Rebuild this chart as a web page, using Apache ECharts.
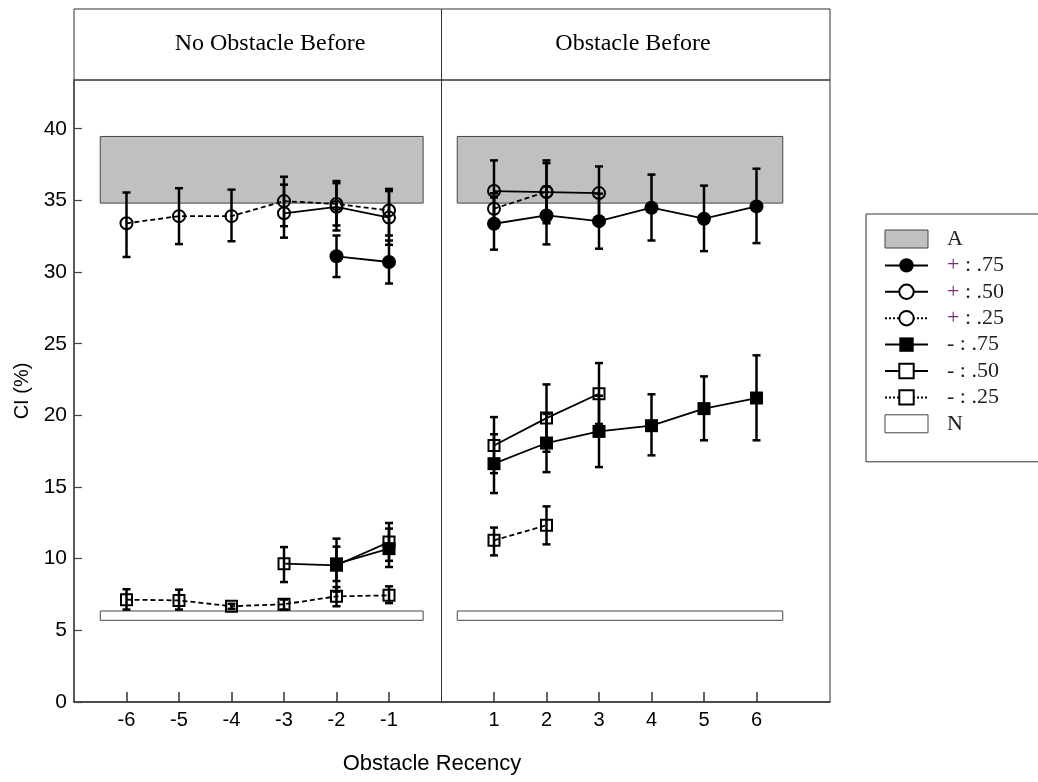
<!DOCTYPE html>
<html><head><meta charset="utf-8">
<script src="https://cdn.jsdelivr.net/npm/echarts@6/dist/echarts.min.js"></script>
<style>html,body{margin:0;padding:0;background:#fff}#c{width:1038px;height:782px}</style>
</head><body><div id="c"></div><script>
// ---- tick labels ----
const xTicks = [-6,-5,-4,-3,-2,-1,1,2,3,4,5,6];
const yTicks = [0,5,10,15,20,25,30,35,40];
const panelTitles = ['No Obstacle Before','Obstacle Before'];
const divider = [[0,0],[0,1]];

// ---- bands (A = gray, N = white) ----
const bandX1 = [-6.5, 0.3];
const bandX2 = [-0.35, 6.5];
const bandA_lo = [34.81, 34.81], bandA_hi = [39.46, 39.46];
const bandN_lo = [5.70, 5.70],   bandN_hi = [6.35, 6.35];

// ---- + : .75 ----
const p75L_x=[-2,-1], p75L_y=[31.1,30.7], p75L_lo=[29.65,29.2], p75L_hi=[32.55,32.2];
const p75R_x=[1,2,3,4,5,6], p75R_y=[33.37,33.95,33.55,34.49,33.72,34.58];
const p75R_lo=[31.56,31.93,31.63,32.2,31.46,32.02], p75R_hi=[35.2,35.97,35.47,36.8,36.03,37.21];
// ---- + : .50 ----
const p50L_x=[-3,-2,-1], p50L_y=[34.1,34.55,33.8], p50L_lo=[32.4,32.9,31.9], p50L_hi=[36.1,36.2,35.65];
const p50R_x=[1,2,3], p50R_y=[35.65,35.58,35.51], p50R_lo=[33.5,33.4,33.65], p50R_hi=[37.79,37.79,37.37];
// ---- + : .25 ----
const p25L_x=[-6,-5,-4,-3,-2,-1], p25L_y=[33.4,33.9,33.9,34.95,34.75,34.3];
const p25L_lo=[31.05,31.95,32.15,33.2,33.25,32.55], p25L_hi=[35.55,35.85,35.75,36.65,36.35,35.8];
const p25R_x=[1,2], p25R_y=[34.42,35.6], p25R_lo=[33.3,33.5], p25R_hi=[35.5,37.6];
// ---- - : .75 ----
const m75L_x=[-2,-1], m75L_y=[9.64,10.7], m75L_lo=[8.44,9.42], m75L_hi=[10.84,12.1];
const m75R_x=[1,2,3,4,5,6], m75R_y=[16.63,18.07,18.88,19.28,20.47,21.21];
const m75R_lo=[14.58,16.04,16.39,17.21,18.26,18.26], m75R_hi=[18.68,20.1,21.37,21.47,22.72,24.19];
// ---- - : .50 ----
const m50L_x=[-3,-2,-1], m50L_y=[9.65,9.54,11.16], m50L_lo=[8.37,7.7,9.85], m50L_hi=[10.81,11.4,12.49];
const m50R_x=[1,2,3], m50R_y=[17.9,19.81,21.51], m50R_lo=[15.97,17.46,19.4], m50R_hi=[19.88,22.16,23.65];
// ---- - : .25 ----
const m25L_x=[-6,-5,-4,-3,-2,-1], m25L_y=[7.14,7.09,6.68,6.82,7.37,7.44];
const m25L_lo=[6.45,6.45,6.5,6.45,6.68,6.9], m25L_hi=[7.87,7.84,6.85,7.15,8.02,8.07];
const m25R_x=[1,2], m25R_y=[11.28,12.33], m25R_lo=[10.23,11.0], m25R_hi=[12.17,13.65];

const XMIN=-7, XMAX=7.4, YMAX=43.4;
const chart = echarts.init(document.getElementById('c'));

function pts(xs, ys){ return xs.map((x,i)=>[x, ys[i]]); }
function errs(xs, lo, hi){ return xs.map((x,i)=>[x, lo[i], hi[i]]); }

function errSeries(data){
  return {type:'custom', z:3, silent:true, encode:{x:0, y:[1,2]}, data,
    renderItem:(params, api)=>{
      const x=api.value(0);
      const p1=api.coord([x, api.value(1)]), p2=api.coord([x, api.value(2)]);
      const w=4, st={stroke:'#000', lineWidth:2.5};
      return {type:'group', children:[
        {type:'line', shape:{x1:p1[0],y1:p1[1],x2:p2[0],y2:p2[1]}, style:st},
        {type:'line', shape:{x1:p1[0]-w,y1:p1[1],x2:p1[0]+w,y2:p1[1]}, style:st},
        {type:'line', shape:{x1:p2[0]-w,y1:p2[1],x2:p2[0]+w,y2:p2[1]}, style:st}
      ]};
    }};
}
function lineSeries(name, data, symbol, filled, dash){
  const circ = symbol==='circle';
  return {name, type:'line', data, symbol,
    symbolSize: filled ? (circ?14:13) : (circ?12:11),
    lineStyle:{color:'#000', width:1.8, type: dash ? [5,3] : 'solid'},
    itemStyle:{color: filled ? '#000' : 'rgba(255,255,255,0)', borderColor:'#000', borderWidth: filled ? 0 : 2},
    z:4, silent:true, emphasis:{disabled:true}};
}
function bandSeries(name, lo, hi, fill){
  return {name, type:'custom', z:1, silent:true, encode:{x:[0,1], y:[2,3]},
    data: bandX1.map((v,i)=>[v, bandX2[i], lo[i], hi[i]]),
    itemStyle:{color:fill, borderColor:'#444', borderWidth:1},
    renderItem:(p, api)=>{
      const a=api.coord([api.value(0), api.value(3)]), b=api.coord([api.value(1), api.value(2)]);
      return {type:'rect', shape:{x:a[0], y:a[1], width:b[0]-a[0], height:b[1]-a[1]},
        style:{fill:fill, stroke:'#444', lineWidth:1}};
    }};
}

const first = lineSeries('+ : .75', pts(p75L_x,p75L_y), 'circle', true, false);
first.markLine = {silent:true, symbol:['none','none'], label:{show:false},
  lineStyle:{color:'#333', width:1, type:'solid'}, emphasis:{disabled:true}, data:[{xAxis:0}]};

const series = [
  bandSeries('A', bandA_lo, bandA_hi, '#c0c0c0'),
  bandSeries('N', bandN_lo, bandN_hi, '#ffffff'),
  first,
  lineSeries('+ : .75', pts(p75R_x,p75R_y), 'circle', true, false),
  lineSeries('+ : .50', pts(p50L_x,p50L_y), 'circle', false, false),
  lineSeries('+ : .50', pts(p50R_x,p50R_y), 'circle', false, false),
  lineSeries('+ : .25', pts(p25L_x,p25L_y), 'circle', false, true),
  lineSeries('+ : .25', pts(p25R_x,p25R_y), 'circle', false, true),
  lineSeries('- : .75', pts(m75L_x,m75L_y), 'rect', true, false),
  lineSeries('- : .75', pts(m75R_x,m75R_y), 'rect', true, false),
  lineSeries('- : .50', pts(m50L_x,m50L_y), 'rect', false, false),
  lineSeries('- : .50', pts(m50R_x,m50R_y), 'rect', false, false),
  lineSeries('- : .25', pts(m25L_x,m25L_y), 'rect', false, true),
  lineSeries('- : .25', pts(m25R_x,m25R_y), 'rect', false, true),
  errSeries(errs(p75L_x,p75L_lo,p75L_hi)), errSeries(errs(p75R_x,p75R_lo,p75R_hi)),
  errSeries(errs(p50L_x,p50L_lo,p50L_hi)), errSeries(errs(p50R_x,p50R_lo,p50R_hi)),
  errSeries(errs(p25L_x,p25L_lo,p25L_hi)), errSeries(errs(p25R_x,p25R_lo,p25R_hi)),
  errSeries(errs(m75L_x,m75L_lo,m75L_hi)), errSeries(errs(m75R_x,m75R_lo,m75R_hi)),
  errSeries(errs(m50L_x,m50L_lo,m50L_hi)), errSeries(errs(m50R_x,m50R_lo,m50R_hi)),
  errSeries(errs(m25L_x,m25L_lo,m25L_hi)), errSeries(errs(m25R_x,m25R_lo,m25R_hi)),
  {type:'line', xAxisIndex:1, yAxisIndex:1, data:divider, symbol:'none', silent:true,
   lineStyle:{color:'#333', width:1}, emphasis:{disabled:true}}
];

const labelFont = {fontFamily:'Liberation Sans', color:'#000'};
chart.setOption({
  animation:false,
  backgroundColor:'#fff',
  grid:[
    {left:74, right:208, top:80, bottom:80, show:true, borderColor:'#333', borderWidth:1},
    {left:74, right:208, top:9, height:71, show:true, borderColor:'#333', borderWidth:1}
  ],
  xAxis:[
    {gridIndex:0, type:'value', min:XMIN, max:XMAX,
     axisLine:{show:true, onZero:false, lineStyle:{color:'#333', width:1.5}},
     axisTick:{show:true, inside:true, length:10, customValues:xTicks, lineStyle:{color:'#333', width:1.5}},
     axisLabel:Object.assign({customValues:xTicks, margin:8, fontSize:20}, labelFont),
     splitLine:{show:false},
     name:'Obstacle Recency', nameLocation:'middle', nameGap:51,
     nameTextStyle:Object.assign({fontSize:22, padding:[0,40,0,0]}, labelFont)},
    {gridIndex:1, type:'value', min:XMIN, max:XMAX, show:false}
  ],
  yAxis:[
    {gridIndex:0, type:'value', min:0, max:YMAX,
     axisLine:{show:true, onZero:false, lineStyle:{color:'#444', width:1.5}},
     axisTick:{show:true, inside:true, length:8, customValues:yTicks, lineStyle:{color:'#444', width:1.2}},
     axisLabel:Object.assign({customValues:yTicks, margin:7, fontSize:21}, labelFont),
     splitLine:{show:false},
     name:'CI (%)', nameLocation:'middle', nameRotate:90, nameGap:41,
     nameTextStyle:Object.assign({fontSize:20}, labelFont)},
    {gridIndex:1, type:'value', min:0, max:1, show:false}
  ],
  legend:{
    orient:'vertical', left:866, top:214, padding:[14,50,27,18],
    itemWidth:43, itemHeight:18, itemGap:4.4,
    borderColor:'#333', borderWidth:1, backgroundColor:'#fff', selectedMode:false,
    textStyle:{fontFamily:'Liberation Serif', fontSize:22, color:'#222', padding:[0,0,0,14], width:62,
      rich:{p:{color:'#7a2a7a', fontFamily:'Liberation Serif', fontSize:22}}},
    formatter: n => n[0]==='+' ? '{p|+}' + n.slice(1) : n,
    data:[
      {name:'A', icon:'rect', itemStyle:{color:'#c0c0c0', borderColor:'#444', borderWidth:1}},
      {name:'+ : .75'},
      {name:'+ : .50', itemStyle:{color:'#fff'}},
      {name:'+ : .25', itemStyle:{color:'#fff'}, lineStyle:{type:[2,2]}},
      {name:'- : .75'},
      {name:'- : .50', itemStyle:{color:'#fff'}},
      {name:'- : .25', itemStyle:{color:'#fff'}, lineStyle:{type:[2,2]}},
      {name:'N', icon:'rect', itemStyle:{color:'#fff', borderColor:'#444', borderWidth:1}}
    ]
  },
  graphic:[
    {type:'text', x:270, y:44, silent:true, style:{text:panelTitles[0], font:'24px "Liberation Serif"', fill:'#000', align:'center', verticalAlign:'middle'}},
    {type:'text', x:633, y:44, silent:true, style:{text:panelTitles[1], font:'24px "Liberation Serif"', fill:'#000', align:'center', verticalAlign:'middle'}}
  ],
  series
});
</script></body></html>
